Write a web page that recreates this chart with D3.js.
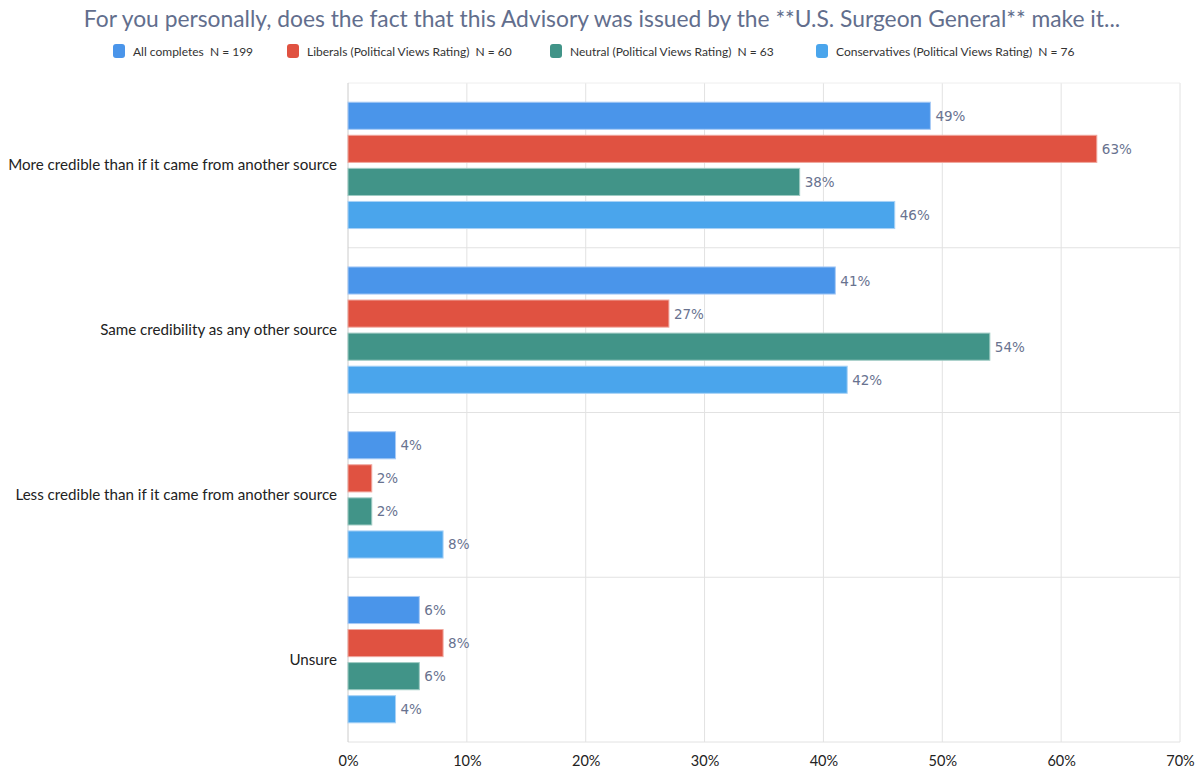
<!DOCTYPE html>
<html><head><meta charset="utf-8">
<script src="https://cdn.jsdelivr.net/npm/d3@7"></script>
<style>body{margin:0;background:#fff;} svg{display:block;}</style>
</head><body>
<svg id="c" width="1204" height="769"></svg>
<script>
const categories = ["More credible than if it came from another source","Same credibility as any other source","Less credible than if it came from another source","Unsure"];
const seriesNames = ["All completes  N = 199","Liberals (Political Views Rating)  N = 60","Neutral (Political Views Rating)  N = 63","Conservatives (Political Views Rating)  N = 76"];
const allCompletes = [49, 41, 4, 6];
const liberals = [63, 27, 2, 8];
const neutral = [38, 54, 2, 6];
const conservatives = [46, 42, 8, 4];
const tickValues = [0,10,20,30,40,50,60,70];
const colors = ["#4a95ea","#e05241","#419488","#4aa5ec"];
const strokes = ["#a9cbf5","#f0a79e","#9fcbc3","#a8d2f6"];
const title = "For you personally, does the fact that this Advisory was issued by the **U.S. Surgeon General** make it...";

const series = [allCompletes, liberals, neutral, conservatives];
const svg = d3.select("#c");
const pLeft = 348, pRight = 1180, pTop = 83, pBottom = 742;
const x = d3.scaleLinear().domain([0,70]).range([pLeft,pRight]);
const y = d3.scaleBand().domain(categories).range([pTop,pBottom]);
const inner = d3.scaleBand().domain(d3.range(4)).range([0,y.bandwidth()]).paddingInner(0.18).paddingOuter(0.58);

svg.append("text").attr("x",602).attr("y",27).attr("text-anchor","middle")
  .attr("font-family","Lato, sans-serif").attr("font-size",22.8).attr("fill","#626e8d").text(title);

// legend
const legX = [113, 287, 550, 816];
seriesNames.forEach((n,i)=>{
  const g = svg.append("g").attr("transform",`translate(${legX[i]},44)`);
  g.append("rect").attr("width",12).attr("height",14).attr("rx",3).attr("fill",colors[i]);
  g.append("text").attr("x",20).attr("y",11.5).attr("font-family","Lato, sans-serif").attr("font-size",12).attr("fill","#333").attr("xml:space","preserve").text(n);
});

// grid
svg.append("g").selectAll("line").data(tickValues.slice(1)).join("line")
  .attr("x1",d=>x(d)).attr("x2",d=>x(d)).attr("y1",pTop).attr("y2",pBottom)
  .attr("stroke","#e2e2e2").attr("stroke-width",1);
svg.append("g").selectAll("line").data(d3.range(categories.length+1)).join("line")
  .attr("x1",pLeft).attr("x2",pRight)
  .attr("y1",i=>pTop+i*y.step()).attr("y2",i=>pTop+i*y.step())
  .attr("stroke",(d,i)=> i===0?"#eeeeee":"#e2e2e2").attr("stroke-width",1);
svg.append("line").attr("x1",pLeft).attr("x2",pLeft).attr("y1",pTop).attr("y2",pBottom).attr("stroke","#cccccc");

// bars
categories.forEach((c,ci)=>{
  series.forEach((s,si)=>{
    const y0 = y(c)+inner(si);
    svg.append("rect").attr("x",x(0)).attr("y",y0).attr("width",x(s[ci])-x(0)).attr("height",inner.bandwidth())
      .attr("fill",colors[si]).attr("stroke",strokes[si]).attr("stroke-width",1);
    svg.append("text").attr("x",x(s[ci])+5).attr("y",y0+inner.bandwidth()/2+5)
      .attr("font-family","'DejaVu Sans', sans-serif").attr("font-size",13.5).attr("fill","#68728f").text(s[ci]+"%");
  });
  svg.append("text").attr("x",337).attr("y",y(c)+y.bandwidth()/2+5).attr("text-anchor","end")
    .attr("font-family","Lato, sans-serif").attr("font-size",15.15).attr("fill","#222").text(c);
});

// x axis labels
const axis = d3.axisBottom(x).tickValues(tickValues).tickFormat(d=>d+"%").tickSize(0).tickPadding(14);
const ag = svg.append("g").attr("transform",`translate(0,${pBottom})`).call(axis);
ag.select(".domain").remove();
ag.selectAll("text").attr("font-family","Lato, sans-serif").attr("font-size",14.5).attr("fill","#222");
</script>
</body></html>
